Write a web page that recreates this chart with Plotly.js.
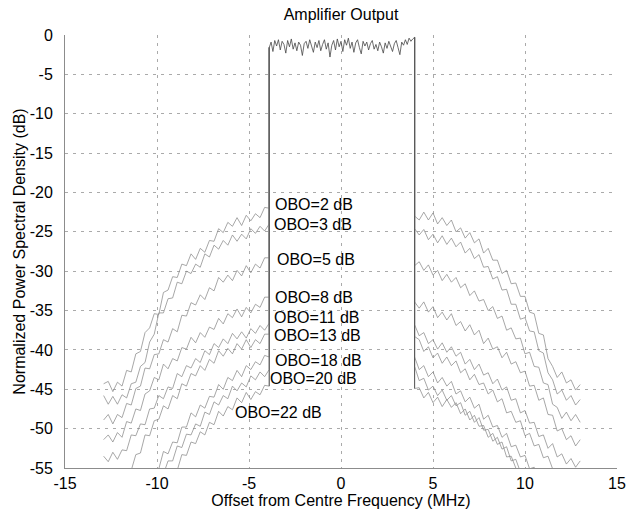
<!DOCTYPE html>
<html><head><meta charset="utf-8">
<script src="https://cdn.plot.ly/plotly-3.0.1.min.js"></script>
<style>html,body{margin:0;padding:0;background:#fff}#chart{width:644px;height:515px}</style>
</head><body><div id="chart"></div>
<script>
// Curve labels (output back-off)
const oboLabels = ["OBO=2 dB","OBO=3 dB","OBO=5 dB","OBO=8 dB","OBO=11 dB","OBO=13 dB","OBO=18 dB","OBO=20 dB","OBO=22 dB"];

// Frequency grids (MHz)
const freqLeft = [-12.9,-12.65,-12.4,-12.15,-11.9,-11.65,-11.4,-11.15,-10.9,-10.65,-10.4,-10.15,-9.9,-9.65,-9.4,-9.15,-8.9,-8.65,-8.4,-8.15,-7.9,-7.65,-7.4,-7.15,-6.9,-6.65,-6.4,-6.15,-5.9,-5.65,-5.4,-5.15,-4.9,-4.65,-4.4,-4.15,-3.9];
const freqRight = [4,4.25,4.5,4.75,5,5.25,5.5,5.75,6,6.25,6.5,6.75,7,7.25,7.5,7.75,8,8.25,8.5,8.75,9,9.25,9.5,9.75,10,10.25,10.5,10.75,11,11.25,11.5,11.75,12,12.25,12.5,12.75,13];
const bandFreq = [];
for (let k = 0; k <= 79; k++) bandFreq.push(+(-3.9 + 0.1 * k).toFixed(2));

// In-band PSD (dB), common to all back-offs
const bandLevel = [-1.6,-0.9,-2.1,-0.7,-1.4,-0.6,-1.9,-0.8,-1.2,-2.3,
 -0.7,-1.5,-0.5,-1.8,-1.0,-2.0,-0.9,-1.3,-2.6,-1.1,
 -0.8,-1.7,-0.6,-1.4,-2.2,-0.9,-1.6,-0.7,-2.0,-1.2,
 -0.6,-1.8,-1.0,-2.8,-1.3,-0.7,-1.9,-0.5,-1.5,-0.8,
 -2.1,-0.6,-1.3,-0.4,-1.7,-0.9,-2.2,-1.0,-0.6,-1.6,
 -2.4,-0.8,-1.4,-0.9,-1.9,-1.1,-0.7,-1.8,-1.2,-2.0,
 -0.9,-1.5,-2.3,-1.0,-1.7,-0.8,-1.4,-2.1,-1.1,-0.7,
 -1.6,-2.5,-0.9,-1.3,-0.6,-1.2,-0.4,-0.8,-0.5,-0.3];

// Lower sidelobe (left) PSD per back-off (dB)
const left2 = [-44.3,-44.0,-45.3,-44.1,-44.6,-42.6,-42.8,-40.5,-40.2,-37.8,-37.2,-35.4,-35.5,-32.7,-32.4,-30.7,-30.8,-29.1,-29.3,-27.8,-28.5,-27.1,-27.6,-26.1,-26.2,-24.6,-25.1,-23.8,-24.3,-23.2,-24.2,-22.9,-23.6,-22.7,-23.2,-21.9,-22.0];
const left3 = [-45.8,-46.9,-45.9,-46.9,-45.7,-46.1,-44.3,-44.1,-42.1,-41.6,-39.0,-38.0,-35.3,-35.3,-33.5,-33.4,-31.4,-31.6,-30.0,-30.3,-29.1,-29.5,-27.8,-28.2,-26.7,-27.2,-26.1,-26.7,-25.4,-26.2,-25.3,-25.9,-24.6,-25.2,-24.3,-24.9,-24.0];
const left5 = [-48.9,-48.2,-49.4,-48.2,-48.6,-46.8,-47.0,-44.9,-44.6,-42.3,-42.4,-40.6,-40.5,-38.7,-39.0,-37.3,-37.7,-35.6,-35.7,-34.0,-34.3,-33.0,-33.6,-32.1,-32.5,-30.8,-31.4,-30.5,-31.2,-29.9,-30.6,-29.3,-30.2,-29.1,-29.6,-28.3,-28.3];
const left8 = [-51.4,-50.8,-51.7,-50.5,-51.1,-49.1,-49.3,-47.5,-47.7,-45.6,-45.2,-43.5,-43.8,-41.8,-42.4,-41.1,-41.4,-39.7,-39.9,-38.4,-39.1,-37.8,-38.4,-37.1,-37.4,-36.0,-36.7,-35.4,-35.9,-34.8,-35.8,-34.6,-35.3,-34.2,-34.6,-33.3,-33.3];
const left11 = [-53.5,-54.2,-53.0,-53.9,-52.7,-52.8,-50.8,-50.9,-49.4,-49.5,-47.5,-47.4,-45.8,-46.2,-44.7,-44.9,-43.0,-43.4,-42.0,-42.3,-41.1,-41.6,-40.1,-40.6,-39.2,-39.7,-38.6,-39.2,-37.9,-38.6,-37.7,-38.5,-37.3,-37.9,-36.9,-37.5,-36.6];
const left13 = [null,null,null,null,null,-55.4,-55.3,-53.3,-53.1,-50.8,-50.9,-49.0,-48.8,-47.1,-47.5,-45.8,-46.2,-44.3,-44.6,-43.0,-43.3,-42.0,-42.6,-41.2,-41.7,-40.1,-40.8,-39.8,-40.5,-39.2,-39.9,-38.7,-39.7,-38.7,-39.2,-38.0,-38.0];
const left18 = [null,null,null,null,null,null,null,null,null,null,null,-55.8,-55.1,-52.9,-53.2,-51.7,-51.8,-49.8,-49.8,-48.0,-48.5,-47.0,-47.4,-45.9,-46.0,-44.4,-45.0,-43.5,-43.9,-42.6,-43.4,-42.0,-42.5,-41.5,-41.9,-40.7,-40.9];
const left20 = [null,null,null,null,null,null,null,null,null,null,null,null,null,-55.8,-54.1,-54.1,-52.2,-52.4,-50.7,-50.8,-49.4,-49.7,-47.9,-48.2,-46.6,-47.0,-45.8,-46.2,-44.6,-45.2,-44.2,-44.7,-43.3,-43.8,-42.8,-43.4,-42.5];
const left22 = [null,null,null,null,null,null,null,null,null,null,null,null,null,null,null,-55.6,-55.3,-53.3,-53.4,-51.7,-51.9,-50.4,-50.8,-49.2,-49.5,-47.8,-48.4,-47.2,-47.6,-46.1,-46.7,-45.4,-46.3,-45.3,-45.7,-44.5,-44.6];

// Upper sidelobe (right) PSD per back-off (dB)
const right2 = [-23.0,-23.5,-22.5,-23.5,-22.6,-24.0,-23.2,-24.2,-23.5,-25.0,-24.5,-25.8,-25.1,-26.4,-25.9,-27.7,-27.1,-28.6,-28.6,-30.3,-29.9,-31.6,-31.5,-33.2,-33.2,-35.2,-35.4,-37.9,-38.1,-41.1,-42.1,-43.5,-42.8,-44.2,-43.8,-45.1,-44.4];
const right3 = [-24.6,-25.4,-24.7,-26.0,-25.3,-26.4,-25.5,-26.6,-25.8,-26.9,-26.3,-27.7,-27.1,-28.4,-27.9,-29.5,-29.4,-31.0,-30.7,-32.4,-32.3,-34.2,-34.2,-36.1,-35.9,-37.6,-37.7,-40.1,-40.4,-42.9,-43.8,-45.6,-45.1,-46.4,-45.8,-47.0,-46.3];
const right5 = [-29.3,-28.8,-29.9,-29.2,-30.5,-29.9,-31.2,-30.4,-31.4,-30.8,-32.1,-31.6,-33.1,-32.5,-33.8,-33.6,-35.0,-34.5,-36.0,-35.7,-37.5,-37.2,-38.6,-38.5,-40.5,-40.3,-42.1,-42.2,-44.2,-44.4,-46.9,-47.3,-48.7,-47.9,-49.0,-48.2,-49.2];
const right8 = [-33.9,-34.7,-33.9,-35.2,-34.5,-35.9,-35.2,-36.2,-35.4,-36.9,-36.4,-37.6,-36.8,-38.1,-37.5,-39.2,-38.5,-39.9,-39.6,-41.0,-40.3,-41.8,-41.5,-42.9,-42.7,-44.6,-44.5,-46.4,-46.1,-48.2,-48.3,-50.3,-50.0,-51.4,-50.9,-52.2,-51.4];
const right11 = [-36.8,-38.2,-37.8,-39.2,-38.7,-39.9,-39.1,-40.3,-39.6,-40.8,-40.3,-41.8,-41.2,-42.5,-41.8,-43.2,-42.9,-44.3,-43.7,-45.1,-44.7,-46.4,-46.2,-48.0,-47.7,-49.3,-49.2,-51.0,-50.8,-52.5,-51.9,-53.6,-53.2,-54.5,-53.8,-54.9,-54.1];
const right13 = [-38.3,-38.7,-40.2,-39.6,-41.0,-40.4,-41.7,-40.9,-42.0,-41.4,-42.9,-42.4,-43.8,-43.1,-44.4,-44.2,-45.6,-45.1,-46.6,-46.2,-48.0,-47.8,-49.2,-49.0,-50.9,-50.6,-52.2,-52.0,-53.7,-53.5,-55.1,-55.6,null,null,null,null,null];
const right18 = [-40.9,-42.5,-42.0,-43.4,-42.8,-44.2,-43.5,-44.6,-44.0,-45.6,-45.2,-46.6,-46.0,-47.4,-46.9,-48.8,-48.3,-49.8,-49.6,-51.1,-50.6,-52.3,-52.1,-53.6,-53.4,-55.1,-54.9,-56.6,null,null,null,null,null,null,null,null,null];
const right20 = [-42.1,-43.9,-43.6,-45.1,-44.6,-45.8,-45.1,-46.4,-45.8,-47.1,-46.7,-48.3,-47.8,-49.2,-48.6,-50.2,-50.1,-51.6,-51.1,-52.6,-52.3,-54.1,-53.9,-55.5,-55.6,null,null,null,null,null,null,null,null,null,null,null,null];
const right22 = [-44.9,-44.8,-46.1,-45.4,-46.7,-46.0,-47.2,-46.3,-47.3,-46.7,-48.1,-47.5,-48.9,-48.3,-49.7,-49.6,-51.1,-50.6,-52.0,-51.7,-53.6,-53.5,-55.0,-55.6,null,null,null,null,null,null,null,null,null,null,null,null,null];

// Axis ticks
const xTickVals = [-15,-10,-5,0,5,10,15];
const xTickText = ["-15","-10","-5","0","5","10","15"];
const yTickVals = [0,-5,-10,-15,-20,-25,-30,-35,-40,-45,-50,-55];
const yTickText = ["0","-5","-10","-15","-20","-25","-30","-35","-40","-45","-50","-55"];

const leftSets = [left2,left3,left5,left8,left11,left13,left18,left20,left22];
const rightSets = [right2,right3,right5,right8,right11,right13,right18,right20,right22];

const lineColor = 'rgb(138,138,138)';
const traces = [];
const nB = bandFreq.length - 1;
for (let i = 0; i < oboLabels.length; i++) {
  traces.push({
    type: 'scatter', mode: 'lines', name: oboLabels[i],
    x: freqLeft.concat([bandFreq[0], null, bandFreq[nB]], freqRight),
    y: leftSets[i].concat([bandLevel[0], null, bandLevel[nB]], rightSets[i]),
    line: {color: lineColor, width: 0.75}, connectgaps: false, hoverinfo: 'skip'
  });
}
// In-band level with the steep band edges (overlap of all curves), drawn darker
const lastL = left22[left22.length - 1];
traces.push({type:'scatter', mode:'lines',
  x: [freqLeft[freqLeft.length - 1]].concat(bandFreq, [freqRight[0]]),
  y: [lastL].concat(bandLevel, [right22[0]]),
  line:{color:'rgb(70,70,70)', width:0.8}, hoverinfo:'skip'});

// label anchor positions (data coords)
const labelPos = [[-3.70,-21.5],[-3.75,-24.1],[-3.59,-28.5],[-3.70,-33.3],[-3.75,-35.9],[-3.75,-38.2],[-3.70,-41.4],[-3.97,-43.6],[-5.87,-47.9]];
const font = 'Liberation Sans, Arial, Helvetica, sans-serif';
const annotations = oboLabels.map((t, i) => ({
  x: labelPos[i][0], y: labelPos[i][1], xref:'x', yref:'y', text: t, showarrow:false,
  xanchor:'left', yanchor:'middle', font:{family:font, size:16, color:'#000'}
}));

const axisCommon = {
  showgrid:true, gridcolor:'rgb(170,170,170)', griddash:'3px,5px', gridwidth:1,
  zeroline:false, showline:true, linecolor:'rgb(140,140,140)', linewidth:1,
  ticks:'', tickfont:{family:font, size:16, color:'#000'}, fixedrange:true
};

const layout = {
  width:644, height:515, margin:{l:65, r:27, t:35, b:47},
  paper_bgcolor:'#fff', plot_bgcolor:'#fff', showlegend:false,
  font:{family:font, color:'#000'},
  title:{text:'Amplifier Output', font:{family:font, size:16, color:'#000'},
    x:0.5, xref:'paper', xanchor:'center', y:1-14/515, yref:'container', yanchor:'middle'},
  xaxis: Object.assign({}, axisCommon, {range:[-15,15], tickmode:'array', tickvals:xTickVals, ticktext:xTickText,
    ticklabelstandoff:1,
    title:{text:'Offset from Centre Frequency (MHz)', font:{family:font, size:16, color:'#000'}, standoff:0}}),
  yaxis: Object.assign({}, axisCommon, {range:[-55,0], tickmode:'array', tickvals:yTickVals, ticktext:yTickText,
    ticklabelstandoff:8,
    title:{text:'Normalized Power Spectral Density (dB)', font:{family:font, size:16, color:'#000'}, standoff:0}}),
  annotations: annotations
};

Plotly.newPlot('chart', traces, layout, {staticPlot:true, displayModeBar:false});
</script></body></html>
